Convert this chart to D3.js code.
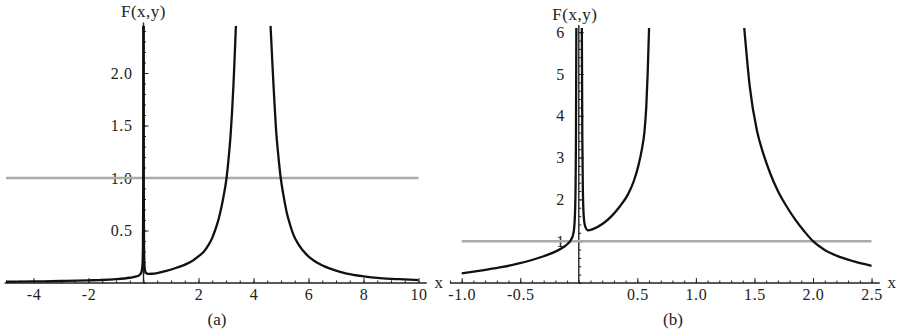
<!DOCTYPE html>
<html>
<head>
<meta charset="utf-8">
<script src="https://cdn.jsdelivr.net/npm/d3@7"></script>
<style>
body { margin: 0; background: #fff; }
svg text { font-family: "Liberation Serif", "Times New Roman", Times, serif; fill: #222; }
</style>
</head>
<body>
<div id="chart"></div>
<script>
// ---- data ----
// panel (a): branches of F(x,y), split at the poles
var aNeg = [[-5,0.012],[-4,0.015],[-3,0.019],[-2,0.025],[-1.6,0.028],[-1,0.036],[-0.5,0.05],[-0.3,0.06],[-0.15,0.076],[-0.08,0.1],[-0.04,0.16],[-0.02,0.35],[-0.01,0.9],[-0.005,2.45]]
var aMid = [[0.005,2.45],[0.01,0.9],[0.02,0.35],[0.04,0.15],[0.08,0.1],[0.17,0.086],[0.3,0.088],[0.5,0.095],[0.83,0.115],[1.2,0.145],[1.55,0.18],[1.8,0.215],[2.04,0.262],[2.2,0.30],[2.36,0.36],[2.5,0.43],[2.6,0.50],[2.7,0.58],[2.78,0.66],[2.9,0.81],[3.02,1.0],[3.1,1.2],[3.17,1.42],[3.22,1.63],[3.27,1.88],[3.31,2.12],[3.36,2.45]]
var aPos = [[4.62,2.45],[4.67,2.18],[4.72,1.92],[4.77,1.68],[4.82,1.46],[4.9,1.22],[4.99,1.0],[5.1,0.82],[5.21,0.67],[5.33,0.555],[5.45,0.46],[5.63,0.37],[5.93,0.27],[6.2,0.212],[6.54,0.163],[7,0.117],[7.39,0.09],[8,0.064],[8.6,0.047],[9.3,0.036],[10,0.028]]
// panel (b)
var bNeg = [[-1,0.23],[-0.81,0.31],[-0.65,0.385],[-0.53,0.455],[-0.4,0.55],[-0.3,0.64],[-0.2,0.75],[-0.13,0.86],[-0.09,0.95],[-0.067,1.03],[-0.045,1.2],[-0.035,1.5],[-0.028,2.2],[-0.024,3.5],[-0.021,6.1]]
var bMid = [[0.026,6.1],[0.03,3.5],[0.035,2.2],[0.042,1.6],[0.055,1.35],[0.08,1.26],[0.12,1.29],[0.21,1.43],[0.28,1.6],[0.35,1.83],[0.42,2.12],[0.47,2.44],[0.51,2.82],[0.54,3.22],[0.56,3.6],[0.576,4.2],[0.588,5.0],[0.6,6.1]]
var bPos = [[1.413,6.1],[1.46,4.7],[1.52,3.66],[1.575,3.1],[1.635,2.62],[1.7,2.2],[1.775,1.83],[1.85,1.51],[1.925,1.24],[2.0,1.0],[2.1,0.79],[2.2,0.655],[2.35,0.515],[2.5,0.41]]

// ticks
var aXTicks = [-4,-2,2,4,6,8,10]
var aYTicks = [0.5,1.0,1.5,2.0]
var bXTicks = [-1.0,-0.5,0.5,1.0,1.5,2.0,2.5]
var bYTicks = [1,2,3,4,5,6]
var level = 1   // the grey reference line F = 1

var W = 901, H = 334
var svg = d3.select("#chart").append("svg").attr("width", W).attr("height", H)

function minorTicks(lo, hi, step) {
    var out = []
    for (var v = lo; v <= hi + 1e-9; v += step) out.push(+v.toFixed(4))
    return out
}
// plain hyphen instead of the unicode minus d3.format gives
function fmtInt(d) { return String(d) }
function fmtOne(d) { return d.toFixed(1) }

function panel(opt) {
    var x = d3.scaleLinear().domain(opt.xDom).range(opt.xRange)
    var y = d3.scaleLinear().domain(opt.yDom).range(opt.yRange)
    var g = svg.append("g")
    var x0 = x(0), y0 = y(0)

    // clip the curves at the top of the plot
    g.append("clipPath").attr("id", opt.id + "clip")
        .append("rect")
        .attr("x", opt.xRange[0] - 5).attr("y", opt.yRange[1])
        .attr("width", opt.xRange[1] - opt.xRange[0] + 10).attr("height", opt.yRange[0] - opt.yRange[1] + 5)

    // x axis: minor + major ticks pointing up
    var xMinor = d3.axisBottom(x).tickValues(opt.xMinor).tickSizeInner(-2.5).tickSizeOuter(0).tickFormat("")
    var xMajor = d3.axisBottom(x).tickValues(opt.xTicks).tickSizeInner(-5).tickSizeOuter(0)
        .tickPadding(opt.xPad).tickFormat(opt.xFmt)
    var gx1 = g.append("g").attr("transform", "translate(0," + y0 + ")").call(xMinor)
    var gx2 = g.append("g").attr("transform", "translate(0," + y0 + ")").call(xMajor)
    // y axis: ticks pointing right
    var yMinor = d3.axisLeft(y).tickValues(opt.yMinor).tickSizeInner(-2.5).tickSizeOuter(0).tickFormat("")
    var yMajor = d3.axisLeft(y).tickValues(opt.yTicks).tickSizeInner(-5).tickSizeOuter(0)
        .tickPadding(opt.yPad).tickFormat(opt.yFmt)
    var gy1 = g.append("g").attr("transform", "translate(" + x0 + ",0)").call(yMinor)
    var gy2 = g.append("g").attr("transform", "translate(" + x0 + ",0)").call(yMajor)
    ;[gx1, gx2, gy1, gy2].forEach(function(a) {
        a.select(".domain").remove()
        a.selectAll(".tick line").attr("stroke", "#222").attr("stroke-width", 1)
        a.selectAll("text").attr("font-size", 16).attr("fill", "#222")
            .attr("letter-spacing", 0.6)
            .style("font-family", "'Liberation Serif', 'Times New Roman', serif")
    })
    gx2.selectAll("text").attr("dy", "0.71em")

    // axis lines
    g.append("line").attr("x1", x(opt.xLine[0])).attr("x2", x(opt.xLine[1]))
        .attr("y1", y0).attr("y2", y0).attr("stroke", "#222").attr("stroke-width", 1.4)
    g.append("line").attr("x1", x0).attr("x2", x0)
        .attr("y1", y0).attr("y2", y(opt.yLine)).attr("stroke", "#222").attr("stroke-width", 1.4)

    // grey level line
    g.append("line")
        .attr("x1", x(opt.xDom[0])).attr("x2", x(opt.xDom[1]))
        .attr("y1", y(level)).attr("y2", y(level))
        .attr("stroke", "#ababab").attr("stroke-width", 2.5)

    // the curve branches
    var line = d3.line().curve(d3.curveMonotoneX)
        .x(function(d) { return x(d[0]) })
        .y(function(d) { return y(d[1]) })
    var cg = g.append("g").attr("clip-path", "url(#" + opt.id + "clip)")
    opt.branches.forEach(function(b) {
        cg.append("path").datum(b)
            .attr("fill", "none").attr("stroke", "#111").attr("stroke-width", 2.3)
            .attr("stroke-linejoin", "round")
            .attr("d", line)
    })

    // labels
    g.append("text").attr("x", x0 + opt.fOff[0]).attr("y", opt.fOff[1])
        .attr("text-anchor", "middle").attr("font-size", 17).attr("letter-spacing", 0.5).text("F(x,y)")
    g.append("text").attr("x", x(opt.xLine[1]) + 12).attr("y", y0 + 5)
        .attr("text-anchor", "middle").attr("font-size", 17).text("x")
    g.append("text").attr("x", opt.capX).attr("y", 325)
        .attr("text-anchor", "middle").attr("font-size", 17).text(opt.caption)
}

panel({
    id: "a",
    xDom: [-5, 10], xRange: [6, 418.5],
    yDom: [0, 2.45], yRange: [283, 25.75],
    xLine: [-5.05, 10.3], yLine: 2.48,
    xTicks: aXTicks, xMinor: minorTicks(-5, 10, 0.5),
    yTicks: aYTicks, yMinor: minorTicks(0, 2.4, 0.1),
    xFmt: fmtInt, yFmt: fmtOne,
    xPad: 6, yPad: 11,
    fOff: [0, 17],
    capX: 217, caption: "(a)",
    branches: [aNeg, aMid, aPos]
})

panel({
    id: "b",
    xDom: [-1, 2.5], xRange: [461.7, 871.55],
    yDom: [0, 6.1], yRange: [283, 28],
    xLine: [-1.1, 2.57], yLine: 6.17,
    xTicks: bXTicks, xMinor: minorTicks(-1.1, 2.5, 0.1),
    yTicks: bYTicks, yMinor: minorTicks(0, 6, 0.2),
    xFmt: fmtOne, yFmt: fmtInt,
    xPad: 6, yPad: 14,
    fOff: [-4, 20],
    capX: 673, caption: "(b)",
    branches: [bNeg, bMid, bPos]
})
</script>
</body>
</html>
